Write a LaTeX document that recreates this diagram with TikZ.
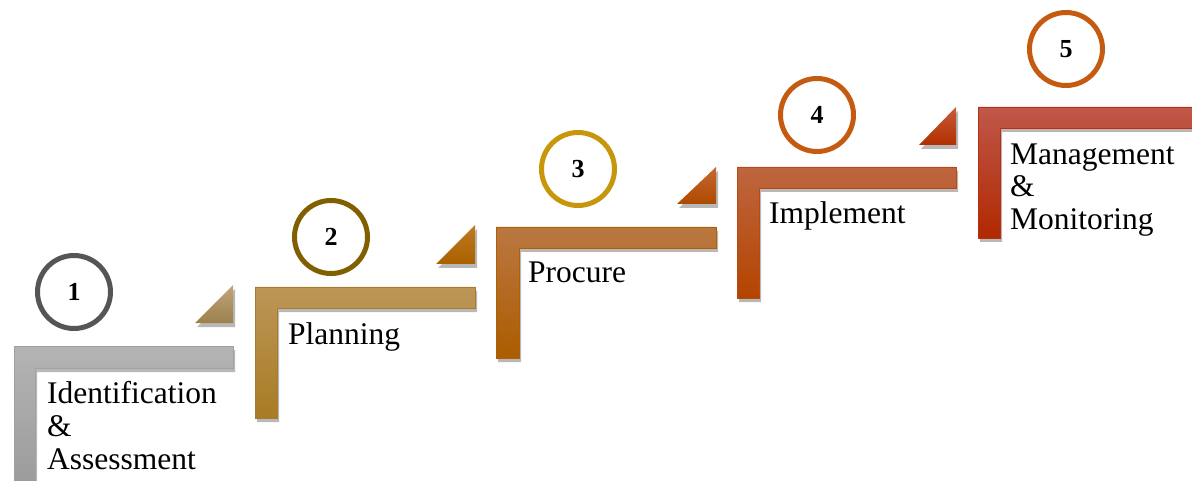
\documentclass[tikz,border=0pt]{standalone}
\usepackage{fontspec}
\setmainfont{Liberation Serif}
\usetikzlibrary{shadows}
\begin{document}
\begin{tikzpicture}[x=1pt,y=-1pt,
  lbl/.style={font=\fontsize{31.5}{33}\selectfont, anchor=base west, inner sep=0pt, align=left},
  num/.style={circle, draw, minimum size=73pt, line width=5pt, fill=white, font=\fontsize{26}{26}\selectfont\bfseries, inner sep=0pt},
  shd/.style={drop shadow={opacity=0.35, shadow xshift=2pt, shadow yshift=-4pt, fill=black!80}},
  stepbar/.style={shd, line width=0.8pt},
]
\path[use as bounding box] (0,0) rectangle (1192,481);
\clip (0,0) rectangle (1192,481);
% colours
\definecolor{gA}{HTML}{B4B4B4}\definecolor{gB}{HTML}{9C9C9C}\definecolor{gE}{HTML}{A0A0A0}
\definecolor{tA}{HTML}{BC9658}\definecolor{tB}{HTML}{A87C24}\definecolor{tE}{HTML}{A87C30}
\definecolor{pA}{HTML}{BA7842}\definecolor{pB}{HTML}{AC5C00}\definecolor{pE}{HTML}{B06000}
\definecolor{iA}{HTML}{BE6640}\definecolor{iB}{HTML}{B44400}\definecolor{iE}{HTML}{B84A10}
\definecolor{mA}{HTML}{C0584A}\definecolor{mB}{HTML}{B02800}\definecolor{mE}{HTML}{B83010}
\definecolor{c1}{HTML}{555555}\definecolor{c2}{HTML}{7F5F00}\definecolor{c3}{HTML}{C8960A}
\definecolor{c4}{HTML}{C55A11}\definecolor{c5}{HTML}{C55A11}
\definecolor{r1A}{HTML}{C2A478}\definecolor{r1B}{HTML}{9C804C}
\definecolor{r2A}{HTML}{C07A20}\definecolor{r2B}{HTML}{A86000}
\definecolor{r3A}{HTML}{C46A30}\definecolor{r3B}{HTML}{AE4800}
\definecolor{r4A}{HTML}{C85A3A}\definecolor{r4B}{HTML}{B03000}
% step 1
\shade[stepbar, top color=gA, bottom color=gB, draw=gE]
  (14,346) -- (233,346) -- (233,368) -- (35,368) -- (35,481) -- (14,481) -- cycle;
% step 2
\shade[stepbar, top color=tA, bottom color=tB, draw=tE]
  (255,287) -- (475,287) -- (475,308) -- (277,308) -- (277,418) -- (255,418) -- cycle;
% step 3
\shade[stepbar, top color=pA, bottom color=pB, draw=pE]
  (496,227) -- (716,227) -- (716,248) -- (519,248) -- (519,358) -- (496,358) -- cycle;
% step 4
\shade[stepbar, top color=iA, bottom color=iB, draw=iE]
  (737,167) -- (956,167) -- (956,188) -- (759,188) -- (759,298) -- (737,298) -- cycle;
% step 5
\shade[stepbar, top color=mA, bottom color=mB, draw=mE]
  (978,107) -- (1200,107) -- (1200,128) -- (1000,128) -- (1000,238) -- (978,238) -- cycle;
% riser triangles
\shade[shd, top color=r1A, bottom color=r1B] (195,323) -- (233,323) -- (233,285) -- cycle;
\shade[shd, top color=r2A, bottom color=r2B] (436,264) -- (475,264) -- (475,225) -- cycle;
\shade[shd, top color=r3A, bottom color=r3B] (677,204) -- (716,204) -- (716,167) -- cycle;
\shade[shd, top color=r4A, bottom color=r4B] (919,145) -- (956,145) -- (956,107) -- cycle;
% numbered circles
\node[num, draw=c1] (n1) at (74,292) {1};
\node[num, draw=c2] (n2) at (331,237) {2};
\node[num, draw=c3] (n3) at (578,169) {3};
\node[num, draw=c4] (n4) at (817,115) {4};
\node[num, draw=c5] (n5) at (1066,49) {5};
% labels (multi-line: base anchor = last line)
\node[lbl] (l1) at (47,469) {Identification\\\&\\Assessment};
\node[lbl] (l2) at (288,344) {Planning};
\node[lbl] (l3) at (528,283) {Procure};
\node[lbl] (l4) at (769,224) {Implement};
\node[lbl] (l5) at (1010,230) {Management\\\&\\Monitoring};
\end{tikzpicture}
\end{document}
